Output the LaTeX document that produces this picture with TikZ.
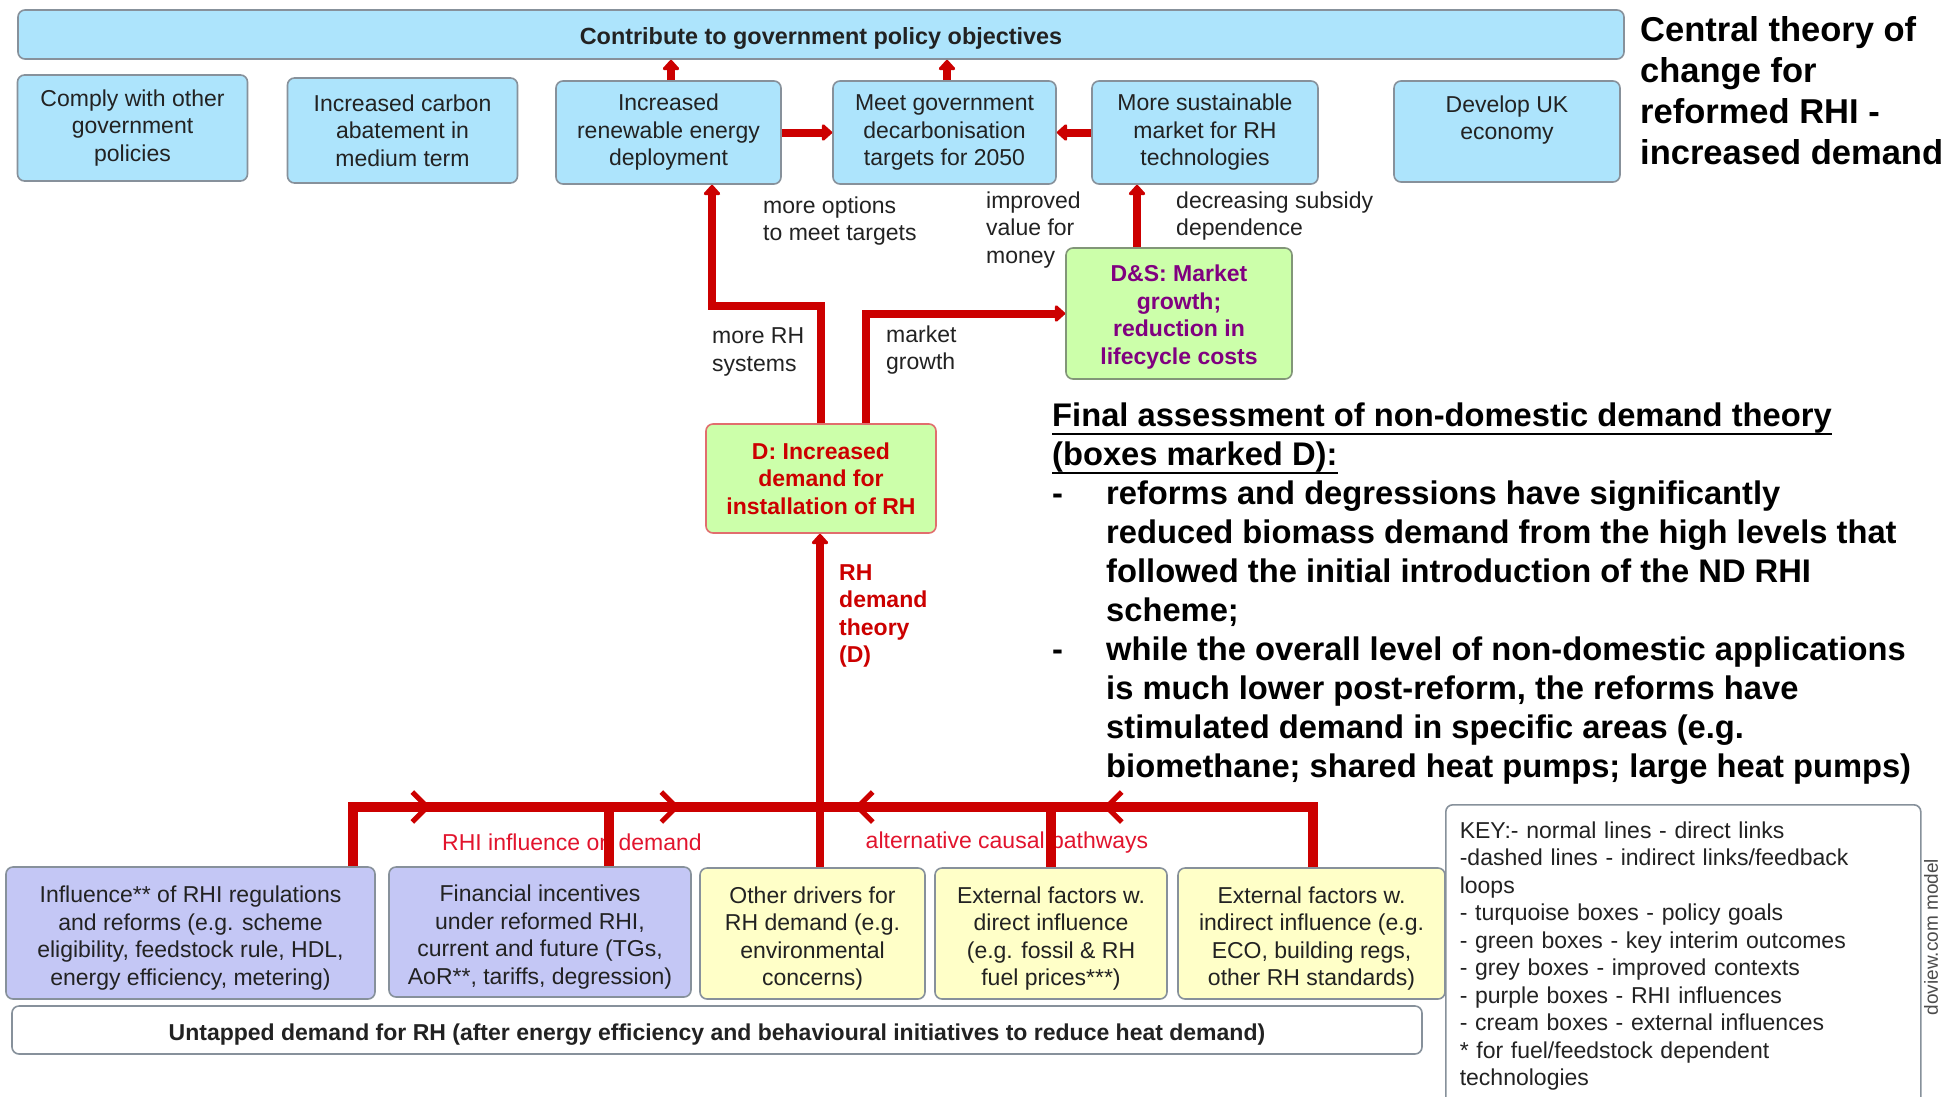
\documentclass[tikz,border=0pt]{standalone}
\usepackage{fontspec}
\setmainfont{Liberation Sans}
\usetikzlibrary{arrows.meta,decorations.markings}
\definecolor{turq}{RGB}{173,228,252}
\definecolor{grn}{RGB}{204,255,170}
\definecolor{purp}{RGB}{196,199,245}
\definecolor{crm}{RGB}{255,255,200}
\definecolor{bord}{RGB}{135,145,155}
\definecolor{dbord}{RGB}{225,110,110}
\definecolor{gbord}{RGB}{130,150,120}
\definecolor{rline}{RGB}{204,0,0}
\definecolor{rlabel}{RGB}{226,20,45}
\definecolor{ptext}{RGB}{128,0,128}
\definecolor{txt}{RGB}{34,34,34}
\newcommand{\lowr}[1]{\rule{0pt}{#1}}
\newcommand{\myul}[1]{\setbox0\hbox{#1}\rlap{\rule[-9pt]{\wd0}{2.2pt}}\box0}
\tikzset{barbtip/.tip={Straight Barb[length=15pt,width=30pt,line width=5pt]}}
\begin{document}
\begin{tikzpicture}[x=1pt,y=-1pt,
  box/.style={draw=bord, line width=1.6pt, rounded corners=7pt, align=center, inner sep=0pt, text=txt, font=\fontsize{23}{27.5}\selectfont},
  turqbox/.style={box, fill=turq},
  grnbox/.style={box, fill=grn, font=\bfseries\fontsize{23}{27.5}\selectfont},
  purpbox/.style={box, fill=purp},
  crmbox/.style={box, fill=crm},
  lbl/.style={anchor=west, align=left, inner sep=0pt, text=txt, font=\fontsize{23}{27.5}\selectfont},
  conn/.style={draw=rline, line width=8pt, -{Triangle[length=11pt,width=19pt,round]}},
  busline/.style={draw=rline, line width=10pt}
]
\fill[white] (0,0) rectangle (1952,1096);
\useasboundingbox (0,0) rectangle (1952,1096);

% top bar and title
\node[turqbox, minimum width=1606pt, minimum height=49pt, font=\bfseries\fontsize{23.4}{27.5}\selectfont] (top) at (821,34.5) {\lowr{25pt}Contribute to government policy objectives};
\node[anchor=north west, align=left, inner sep=0pt, text=black, font=\bfseries\fontsize{34.5}{41}\selectfont] (title) at (1640,16) {Central theory of\\change for\\reformed RHI -\\increased demand};

% second row
\node[turqbox, minimum width=230pt, minimum height=106pt] (comply) at (132.5,128) {Comply with other\\government\\policies};
\node[turqbox, minimum width=230pt, minimum height=105pt] (carbon) at (402.5,130.5) {Increased carbon\\abatement in\\medium term};
\node[turqbox, minimum width=225pt, minimum height=103pt] (renew) at (668.5,132.5) {Increased\\renewable energy\\deployment};
\node[turqbox, minimum width=223pt, minimum height=103pt] (meet) at (944.5,132.5) {Meet government\\decarbonisation\\targets for 2050};
\node[turqbox, minimum width=226pt, minimum height=103pt] (sust) at (1205,132.5) {More sustainable\\market for RH\\technologies};
\node[turqbox, minimum width=226pt, minimum height=101pt] (devuk) at (1507,131.5) {Develop UK\\economy\\\mbox{}};

% green boxes
\node[grnbox, draw=gbord, text=ptext, minimum width=226pt, minimum height=131pt] (ds) at (1179,313.5) {\lowr{24pt}D\&S: Market\\growth;\\reduction in\\lifecycle costs};
\node[grnbox, draw=dbord, text=rline, minimum width=230pt, minimum height=109pt] (dbox) at (821,478.5) {D: Increased\\demand for\\installation of RH};

% bottom row
\node[purpbox, minimum width=369pt, minimum height=132pt] (infl) at (190.5,933) {\lowr{27pt}Influence** of RHI regulations\\and reforms (e.g. scheme\\eligibility, feedstock rule, HDL,\\energy efficiency, metering)};
\node[purpbox, minimum width=302pt, minimum height=130pt] (fin) at (540,932) {\lowr{27pt}Financial incentives\\under reformed RHI,\\current and future (TGs,\\AoR**, tariffs, degression)};
\node[crmbox, minimum width=225pt, minimum height=131pt] (other) at (812.5,933.5) {\lowr{27pt}Other drivers for\\RH demand (e.g.\\environmental\\concerns)};
\node[crmbox, minimum width=232pt, minimum height=131pt] (extd) at (1051,933.5) {\lowr{27pt}External factors w.\\direct influence\\(e.g. fossil \& RH\\fuel prices***)};
\node[crmbox, minimum width=267pt, minimum height=131pt] (exti) at (1311.5,933.5) {\lowr{27pt}External factors w.\\indirect influence (e.g.\\ECO, building regs,\\other RH standards)};
\node[box, fill=white, minimum width=1410pt, minimum height=48pt, font=\bfseries\fontsize{23}{27.5}\selectfont] (untap) at (717,1030) {\lowr{25pt}Untapped demand for RH (after energy efficiency and behavioural initiatives to reduce heat demand)};

% key
\node[box, fill=white, anchor=north west, minimum width=475pt, minimum height=302pt, text width=447pt, inner xsep=14pt, align=left] (key) at (1445,804) {KEY:- normal lines - direct links\\-dashed lines - indirect links/feedback\\loops\\- turquoise boxes - policy goals\\- green boxes - key interim outcomes\\- grey boxes - improved contexts\\- purple boxes - RHI influences\\- cream boxes - external influences\\{}* for fuel/feedstock dependent\\technologies};
\node[rotate=90, inner sep=0pt, text=black!70, font=\fontsize{19}{22}\selectfont] (doview) at (1931,937) {doview.com model};

% final assessment
\node[anchor=west, inner sep=0pt, text=black, font=\bfseries\fontsize{32.7}{39}\selectfont] (assess) at (1052,594) {\begin{tabular}{@{}p{54pt}@{}l@{}}
\multicolumn{2}{@{}l@{}}{\myul{Final assessment of non-domestic demand theory}}\\
\multicolumn{2}{@{}l@{}}{\myul{(boxes marked D):}}\\
- & reforms and degressions have significantly\\
 & reduced biomass demand from the high levels that\\
 & followed the initial introduction of the ND RHI\\
 & scheme;\\
- & while the overall level of non-domestic applications\\
 & is much lower post-reform, the reforms have\\
 & stimulated demand in specific areas (e.g.\\
 & biomethane; shared heat pumps; large heat pumps)
\end{tabular}};

% labels
\node[lbl] (lopt) at (763,221) {more options\\to meet targets};
\node[lbl] (lval) at (986,230) {improved\\value for\\money};
\node[lbl] (lsub) at (1176,216) {decreasing subsidy\\dependence};
\node[lbl] (lsys) at (712,352) {more RH\\systems};
\node[lbl] (lmkt) at (886,350) {market\\growth};
\node[lbl, text=rline, font=\bfseries\fontsize{23}{27.5}\selectfont] (ltheory) at (839,616) {RH\\demand\\theory\\(D)};
\node[inner sep=0pt, text=rlabel, font=\fontsize{23}{27.5}\selectfont] (lrhi) at (572,842) {RHI influence on demand};
\node[inner sep=0pt, text=rlabel, font=\fontsize{23}{27.5}\selectfont] (lalt) at (1007,843) {alternative causal pathways};

% top connectors
\draw[conn] (671,0 |- renew.north) -- (671,0 |- top.south);
\draw[conn] (947,0 |- meet.north) -- (947,0 |- top.south);
\draw[conn] (renew.east) -- (meet.west);
\draw[conn] (sust.west) -- (meet.east);
\draw[conn] (1137,0 |- ds.north) -- (1137,0 |- sust.south);
\draw[conn] (dbox.north) |- (712,306) -- (712,0 |- renew.south);
\draw[conn] (866,0 |- dbox.north) |- (ds.west);

% bottom bus
\draw[busline, postaction={decorate}, decoration={markings,
  mark=at position 137pt with {\arrow{barbtip}},
  mark=at position 386pt with {\arrow{barbtip}}}]
  (353,0 |- infl.north) -- (353,807) -- (825,807);
\draw[busline, postaction={decorate}, decoration={markings,
  mark=at position 270pt with {\arrow{barbtip}},
  mark=at position 519pt with {\arrow{barbtip}}}]
  (1313,0 |- exti.north) -- (1313,807) -- (815,807);
\draw[busline] (609,0 |- fin.north) -- (609,807);
\draw[busline] (1051,0 |- extd.north) -- (1051,807);
\draw[conn] (820,0 |- other.north) -- (820,0 |- dbox.south);
\end{tikzpicture}
\end{document}
